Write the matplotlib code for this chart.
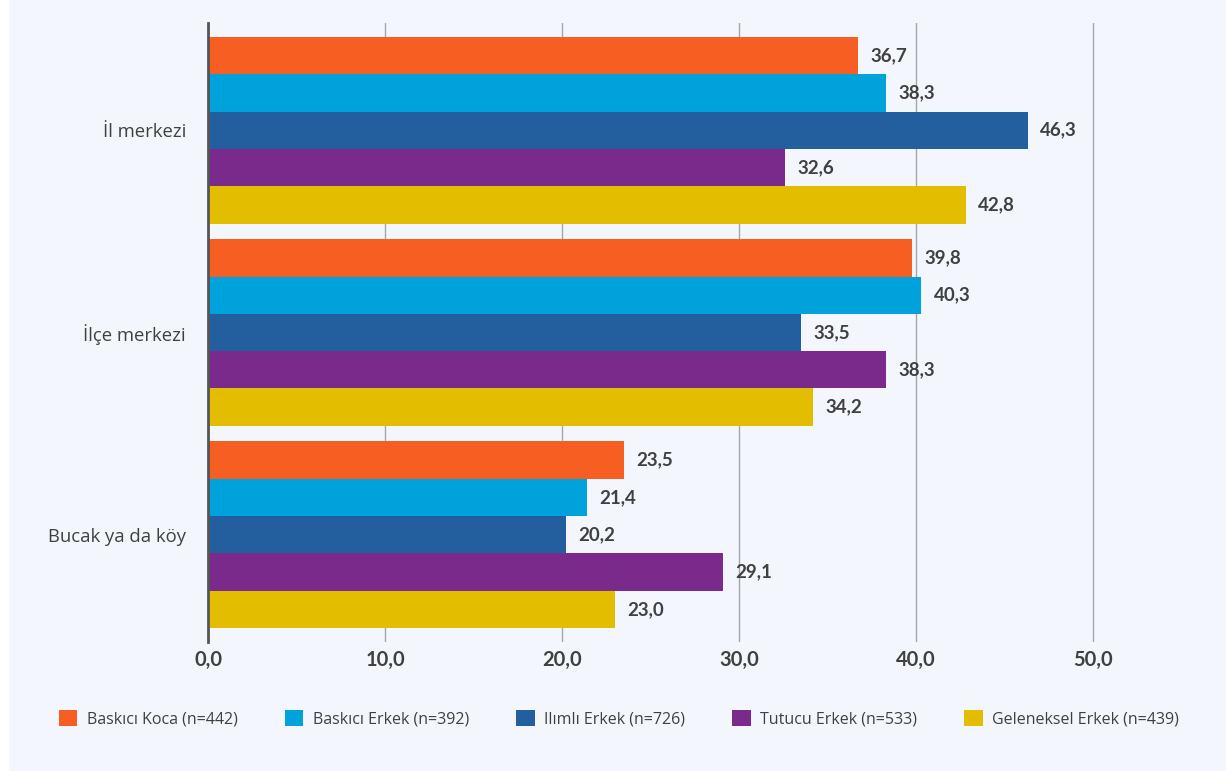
import numpy as np
import matplotlib.pyplot as plt
from matplotlib.patches import Rectangle

categories = ["İl merkezi", "İlçe merkezi", "Bucak ya da köy"]
series = ["Baskıcı Koca (n=442)", "Baskıcı Erkek (n=392)", "Ilımlı Erkek (n=726)",
          "Tutucu Erkek (n=533)", "Geleneksel Erkek (n=439)"]
values = [
    [36.7, 39.8, 23.5],
    [38.3, 40.3, 21.4],
    [46.3, 33.5, 20.2],
    [32.6, 38.3, 29.1],
    [42.8, 34.2, 23.0],
]
colors = ["#F65E22", "#00A2DC", "#235F9F", "#7A2A8B", "#E3BE00"]
xticks = [0, 10, 20, 30, 40, 50]

bg = "#F3F7FD"
text_col = "#404040"

fig = plt.figure(figsize=(12.26, 7.71), dpi=100)
fig.patch.set_facecolor("white")
fig.patches.append(Rectangle((9 / 1226, 0), 1 - 9 / 1226, 1, transform=fig.transFigure,
                             facecolor=bg, edgecolor="none", zorder=-10))

# 17.7 px per unit, x range 0..51 so the 50 gridline is not clipped
ax = fig.add_axes([208 / 1226, 1 - 642 / 771, 51 * 17.7 / 1226, (642 - 23) / 771])
ax.set_facecolor(bg)

h = 0.1845
y = np.arange(len(categories))
for j, (name, vals, c) in enumerate(zip(series, values, colors)):
    pos = y + (j - 2) * h
    ax.barh(pos, vals, height=h, color=c, label=name, zorder=3)
    for p, v in zip(pos, vals):
        ax.text(v + 0.7, p, f"{v:.1f}".replace(".", ","), va="center", ha="left",
                fontsize=13.5, fontweight="bold", color=text_col, family="Lato")

ax.set_xlim(0, 51)
ax.set_ylim(2.53, -0.53)
ax.set_xticks(xticks)
ax.set_xticklabels([f"{t:.1f}".replace(".", ",") for t in xticks],
                   fontsize=14.5, fontweight="bold", color=text_col, family="Lato")
ax.set_yticks(y)
ax.set_yticklabels(categories, fontsize=13.3, color=text_col, family="Open Sans")
ax.tick_params(axis="y", length=0, pad=16)
ax.tick_params(axis="x", length=0, pad=6)
ax.grid(axis="x", color="#A6A6A6", linewidth=1, zorder=1)
for s in ["top", "right", "bottom"]:
    ax.spines[s].set_visible(False)
ax.spines["left"].set_color("#555555")
ax.spines["left"].set_linewidth(2)
ax.spines["left"].set_zorder(5)

leg = fig.legend(loc="center", bbox_to_anchor=(619 / 1226, 1 - 719 / 771), ncol=5,
                 frameon=False, handlelength=1.15, handleheight=1.15, handletextpad=0.6,
                 columnspacing=2.95, prop={"family": "Open Sans", "size": 11.5})
for t in leg.get_texts():
    t.set_color(text_col)

fig.savefig("out.png", dpi=100, facecolor=fig.get_facecolor())
